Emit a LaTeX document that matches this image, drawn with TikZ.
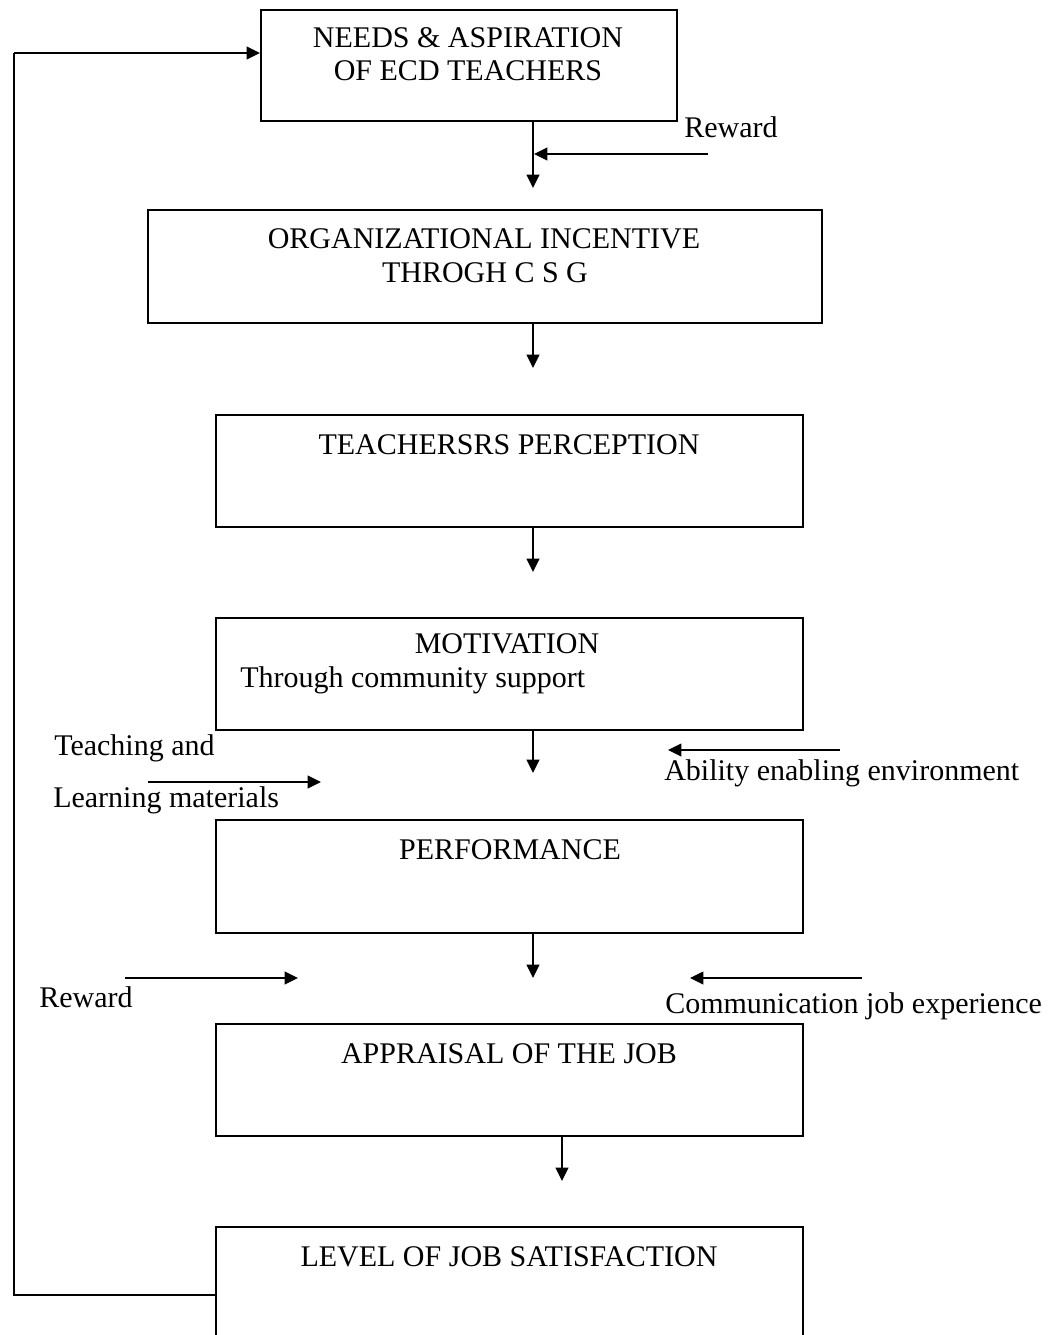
\documentclass[tikz,border=0pt]{standalone}
\usepackage{fontspec}
\setmainfont{Liberation Serif}
\usetikzlibrary{arrows.meta,fit}
\begin{document}
\begin{tikzpicture}[x=0.75pt,y=-0.75pt,
  box/.style={draw,line width=1.4pt,inner sep=0pt},
  txt/.style={inner sep=0pt,anchor=base,font=\fontsize{22.5pt}{27pt}\selectfont},
  ltxt/.style={txt,anchor=base west},
  conn/.style={line width=1.2pt,-{Triangle[length=10pt,width=9.5pt]}},
  wire/.style={line width=1.4pt}]
\useasboundingbox (0,0) rectangle (1056,1335);
\begin{scope}
\clip (0,0) rectangle (1056,1335);
% boxes
\node[box,fit={(261,10) (677,121)}] (b1) {};
\node[box,fit={(148,210) (822,323)}] (b2) {};
\node[box,fit={(216,415) (803,527)}] (b3) {};
\node[box,fit={(216,618) (803,730)}] (b4) {};
\node[box,fit={(216,820) (803,933)}] (b5) {};
\node[box,fit={(216,1024) (803,1136)}] (b6) {};
\node[box,fit={(216,1227) (803,1400)}] (b7) {};
\end{scope}
% box texts
\node[txt] (t1a) at (468,47) {NEEDS \& ASPIRATION};
\node[txt] (t1b) at (468,80) {OF ECD TEACHERS};
\node[txt] (t2a) at (484,248) {ORGANIZATIONAL INCENTIVE};
\node[txt] (t2b) at (485,282) {THROGH C S G};
\node[txt] (t3) at (509,454) {TEACHERSRS PERCEPTION};
\node[txt] (t4a) at (507,653) {MOTIVATION};
\node[ltxt] (t4b) at (240,687) {Through community support};
\node[txt] (t5) at (510,859) {PERFORMANCE};
\node[txt] (t6) at (509,1063) {APPRAISAL OF THE JOB};
\node[txt] (t7) at (509,1266) {LEVEL OF JOB SATISFACTION};
% side labels
\node[ltxt] (rw1) at (684,137) {Reward};
\node[ltxt] (tch) at (54,755) {Teaching and};
\node[ltxt] (lrn) at (53,807) {Learning materials};
\node[ltxt] (abl) at (664,780) {Ability enabling environment};
\node[ltxt] (rw2) at (39,1007) {Reward};
\node[ltxt] (com) at (665,1013) {Communication job experience};
% arrow end points
\coordinate (d1) at (533,188);
\coordinate (d2) at (533,368);
\coordinate (d3) at (533,572);
\coordinate (d4) at (533,773);
\coordinate (d5) at (533,978);
\coordinate (d6) at (562,1181);
\coordinate (r1s) at (708,154);
\coordinate (r1e) at (534,154);
\coordinate (tls) at (148,782);
\coordinate (tle) at (321,782);
\coordinate (abs) at (840,750);
\coordinate (abe) at (668,750);
\coordinate (r2s) at (125,978);
\coordinate (r2e) at (298,978);
\coordinate (cms) at (862,978);
\coordinate (cme) at (690,978);
\coordinate (fbl) at (14,1295);
\coordinate (fbt) at (14,53);
% down connectors
\draw[conn] (b1.south -| d1) -- (d1);
\draw[conn] (b2.south -| d2) -- (d2);
\draw[conn] (b3.south -| d3) -- (d3);
\draw[conn] (b4.south -| d4) -- (d4);
\draw[conn] (b5.south -| d5) -- (d5);
\draw[conn] (b6.south -| d6) -- (d6);
% side connectors
\draw[conn] (r1s) -- (r1e);
\draw[conn] (tls) -- (tle);
\draw[conn] (abs) -- (abe);
\draw[conn] (r2s) -- (r2e);
\draw[conn] (cms) -- (cme);
% feedback loop
\draw[wire] (b7.west |- fbl) -- (fbl) -- (fbt);
\draw[conn,line width=1.4pt] (fbt) -- (b1.west |- fbt);
\end{tikzpicture}
\end{document}
